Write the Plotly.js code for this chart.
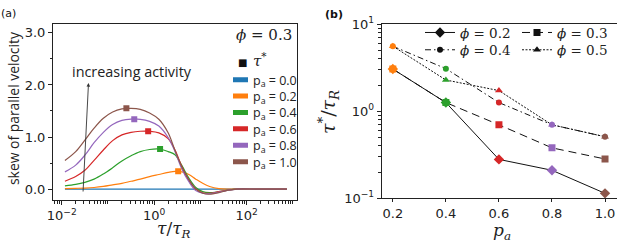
<!DOCTYPE html>
<html>
<head>
<meta charset="utf-8">
<script src="https://cdn.plot.ly/plotly-3.0.1.min.js"></script>
<style>
  html, body { margin: 0; padding: 0; background: #fff; }
  #chart { width: 617px; height: 242px; }
</style>
</head>
<body>
<div id="chart"></div>
<script>
// ---------- Panel (a): skew of parallel velocity vs tau/tau_R (phi = 0.3) ----------
const tau = [0.0117, 0.02, 0.0316, 0.05, 0.0794, 0.126, 0.2, 0.316, 0.5, 0.794, 1.26, 2.0, 2.82, 3.98, 5.62, 7.94, 11.2, 15.8, 25.1, 39.8, 63.1, 158, 398, 741];
const skewP00 = [0, 0, 0, 0, 0, 0, 0, 0, 0, 0, 0, 0, 0, 0, 0, 0, 0, 0, 0, 0, 0, 0, 0, 0];
const skewP02 = [0.01, 0.015, 0.02, 0.03, 0.05, 0.08, 0.11, 0.15, 0.19, 0.24, 0.28, 0.32, 0.34, 0.33, 0.28, 0.19, 0.11, 0.05, 0.01, 0.0, 0, 0, 0, 0];
const skewP04 = [0.06, 0.09, 0.13, 0.19, 0.29, 0.41, 0.54, 0.64, 0.72, 0.76, 0.77, 0.72, 0.66, 0.45, 0.21, 0.03, -0.05, -0.07, -0.05, -0.02, 0, 0, 0, 0];
const skewP06 = [0.15, 0.24, 0.36, 0.55, 0.75, 0.93, 1.04, 1.09, 1.11, 1.11, 1.08, 0.97, 0.75, 0.43, 0.17, 0.0, -0.07, -0.08, -0.05, -0.02, 0, 0, 0, 0];
const skewP08 = [0.33, 0.46, 0.65, 0.89, 1.09, 1.24, 1.32, 1.345, 1.34, 1.30, 1.21, 0.99, 0.72, 0.38, 0.14, -0.03, -0.08, -0.09, -0.06, -0.02, 0, 0, 0, 0];
const skewP10 = [0.55, 0.72, 0.94, 1.17, 1.36, 1.48, 1.54, 1.55, 1.53, 1.46, 1.34, 1.08, 0.74, 0.42, 0.18, 0.0, -0.08, -0.10, -0.07, -0.02, 0, 0, 0, 0];
const paLabels = ['0.0', '0.2', '0.4', '0.6', '0.8', '1.0'];
// tau* markers (peak of each curve, p_a = 0.2 ... 1.0)
const tauStarA = [3.3, 1.34, 0.74, 0.37, 0.25];
const skewStarA = [0.34, 0.77, 1.11, 1.34, 1.55];
const xTickValsA = [0.01, 1, 100];
const xTickTextA = ['10<sup>−2</sup>', '10<sup>0</sup>', '10<sup>2</sup>'];

// ---------- Panel (b): tau*/tau_R vs p_a ----------
const pa = [0.2, 0.4, 0.6, 0.8, 1.0];
const phi02 = [3.06, 1.26, 0.28, 0.21, 0.114];
const phi03 = [3.06, 1.26, 0.70, 0.38, 0.283];
const phi04 = [5.6, 3.09, 1.26, 0.70, 0.51];
const phi05 = [5.6, 2.29, 1.73, 0.70, 0.51];
const phiLabels = ['0.2', '0.3', '0.4', '0.5'];
const yTickValsB = [0.1, 1, 10];
const yTickTextB = ['10<sup>−1</sup>', '10<sup>0</sup>', '10<sup>1</sup>'];

const curveColors = ['#1f77b4', '#ff7f0e', '#2ca02c', '#d62728', '#9467bd', '#8c564b'];
const pointColors = curveColors.slice(1);

const W = 617, H = 242;
const px = v => v / W;
const py = v => 1 - v / H;

const traces = [];
const skews = [skewP00, skewP02, skewP04, skewP06, skewP08, skewP10];
skews.forEach((s, i) => {
  traces.push({
    x: tau, y: s, type: 'scatter', mode: 'lines', xaxis: 'x', yaxis: 'y',
    line: { color: curveColors[i], width: 1.2, shape: 'spline', smoothing: 1 },
    showlegend: false, hoverinfo: 'skip'
  });
});
traces.push({
  x: tauStarA, y: skewStarA, type: 'scatter', mode: 'markers', xaxis: 'x', yaxis: 'y',
  marker: { symbol: 'square', size: 6, color: pointColors },
  showlegend: false, hoverinfo: 'skip'
});
const legRowsA = [80, 96.4, 112.8, 129.2, 145.6, 162];
paLabels.forEach((lab, i) => {
  traces.push({
    x: [null], y: [null], type: 'scatter', mode: 'lines', xaxis: 'x', yaxis: 'y',
    line: { color: curveColors[i], width: 5, dash: '0px,15px,15px' },
    name: 'p<sub>a</sub> = ' + lab,
    legend: i === 0 ? 'legend' : 'legend' + (i + 1)
  });
});

// panel (b)
const phiSeries = [phi02, phi03, phi04, phi05];
const phiDash = ['solid', '8px,5px', '6px,3px,1.5px,3px', '2px,1.5px'];
const phiSymbol = ['diamond', 'square', 'circle', 'triangle-up'];
const phiSize = [8, 7, 6, 7];
phiSeries.forEach((s, i) => {
  traces.push({
    x: pa, y: s, type: 'scatter', mode: 'lines', xaxis: 'x2', yaxis: 'y2',
    line: { color: '#111', width: 1, dash: phiDash[i] },
    showlegend: false, hoverinfo: 'skip'
  });
});
phiSeries.forEach((s, i) => {
  traces.push({
    x: pa, y: s, type: 'scatter', mode: 'markers', xaxis: 'x2', yaxis: 'y2',
    marker: { symbol: phiSymbol[i], size: phiSize[i], color: pointColors },
    showlegend: false, hoverinfo: 'skip'
  });
});
const legPosB = [[420, 32.7], [517, 32.7], [420, 50], [517, 50]];
phiLabels.forEach((lab, i) => {
  traces.push({
    x: [null], y: [null], type: 'scatter', mode: 'lines+markers', xaxis: 'x2', yaxis: 'y2',
    line: { color: '#111', width: 1, dash: phiDash[i] },
    marker: { symbol: phiSymbol[i], size: phiSize[i], color: '#111' },
    name: '<i>ϕ</i> = ' + lab,
    legend: 'legend' + (7 + i)
  });
});

const axFont = { family: 'DejaVu Sans', size: 13, color: '#222' };
const baseAxis = {
  showline: true, mirror: true, linecolor: '#222', linewidth: 1,
  ticks: 'outside', ticklen: 4, tickwidth: 1, tickcolor: '#222',
  showgrid: false, zeroline: false, tickfont: axFont, automargin: false
};

function ann(text, x, y, font, extra) {
  return Object.assign({
    text: text, x: px(x), y: py(y), xref: 'paper', yref: 'paper',
    xanchor: 'center', yanchor: 'middle', showarrow: false, font: font
  }, extra || {});
}

const layout = {
  width: W, height: H,
  margin: { l: 0, r: 0, t: 0, b: 0 },
  paper_bgcolor: '#fff', plot_bgcolor: '#fff',
  xaxis: Object.assign({}, baseAxis, {
    domain: [px(53), px(297)], anchor: 'y', type: 'log', range: [-2.19, 3.09],
    tickvals: xTickValsA, ticktext: xTickTextA, ticklen: 3.5,
    minor: { dtick: 'D1', ticks: 'outside', ticklen: 2.5, tickcolor: '#222', showgrid: false }
  }),
  yaxis: Object.assign({}, baseAxis, {
    domain: [py(200), py(23.5)], anchor: 'x', range: [-0.21, 3.18],
    dtick: 1, tickformat: '.1f',
    minor: { dtick: 0.5, ticks: 'outside', ticklen: 2.5, tickcolor: '#222', showgrid: false }
  }),
  xaxis2: Object.assign({}, baseAxis, {
    domain: [px(381.7), 0.9995], anchor: 'y2', range: [0.158, 1.044],
    tickvals: pa, tickformat: '.1f', ticklen: 3
  }),
  yaxis2: Object.assign({}, baseAxis, {
    domain: [py(198.3), py(24.3)], anchor: 'x2', type: 'log', range: [-1, 1],
    tickvals: yTickValsB, ticktext: yTickTextB,
    minor: { dtick: 'D1', ticks: 'outside', ticklen: 2.5, tickcolor: '#222', showgrid: false }
  }),
  annotations: [
    ann('(a)', 8, 13, { family: 'DejaVu Sans', size: 11, color: '#111' }),
    ann('<b>(b)</b>', 334, 14, { family: 'DejaVu Sans', size: 11, color: '#111' }),
    ann('skew of parallel velocity', 14, 109, { family: 'Open Sans', size: 13.9, color: '#222' }, { textangle: -90 }),
    ann('<i>τ</i>/<i>τ</i><sub><i>R</i></sub>', 174, 229.5, { family: 'DejaVu Serif', size: 17, color: '#222' }, { borderpad: 0 }),
    ann('<i>p</i><sub><i>a</i></sub>', 502, 231, { family: 'DejaVu Serif', size: 17, color: '#222' }, { borderpad: 0 }),
    ann('<i>τ</i><sup>*</sup>/<i>τ</i><sub><i>R</i></sub>', 328, 112, { family: 'DejaVu Serif', size: 19, color: '#222' }, { textangle: -90 }),
    ann('increasing activity', 131.7, 71.5, { family: 'Open Sans', size: 14.4, color: '#222' }),
    { text: '', x: px(88.5), y: py(83), xref: 'paper', yref: 'paper', showarrow: true,
      ax: -5.5, ay: 110, arrowhead: 2, arrowsize: 0.8, arrowwidth: 0.9, arrowcolor: '#333', standoff: 0 },
    ann('<i>ϕ</i> = 0.3', 263.5, 35, { family: 'DejaVu Serif', size: 15, color: '#222' }),
    ann('■', 242, 62, { family: 'DejaVu Sans', size: 10, color: '#111' }),
    ann('<i>τ</i><sup>*</sup>', 259.5, 60, { family: 'DejaVu Serif', size: 15, color: '#222' })
  ]
};

const legBase = {
  xanchor: 'left', yanchor: 'middle', bgcolor: 'rgba(0,0,0,0)', borderwidth: 0,
  itemwidth: 30, tracegroupgap: 0
};
legRowsA.forEach((yv, i) => {
  const key = i === 0 ? 'legend' : 'legend' + (i + 1);
  layout[key] = Object.assign({}, legBase, {
    x: px(213), y: py(yv), font: { family: 'Open Sans', size: 12.5, color: '#222' }
  });
});
legPosB.forEach((p, i) => {
  layout['legend' + (7 + i)] = Object.assign({}, legBase, {
    x: px(p[0]), y: py(p[1]), font: { family: 'DejaVu Serif', size: 13.5, color: '#222' }
  });
});

Plotly.newPlot('chart', traces, layout, { staticPlot: true, displayModeBar: false });
</script>
</body>
</html>
